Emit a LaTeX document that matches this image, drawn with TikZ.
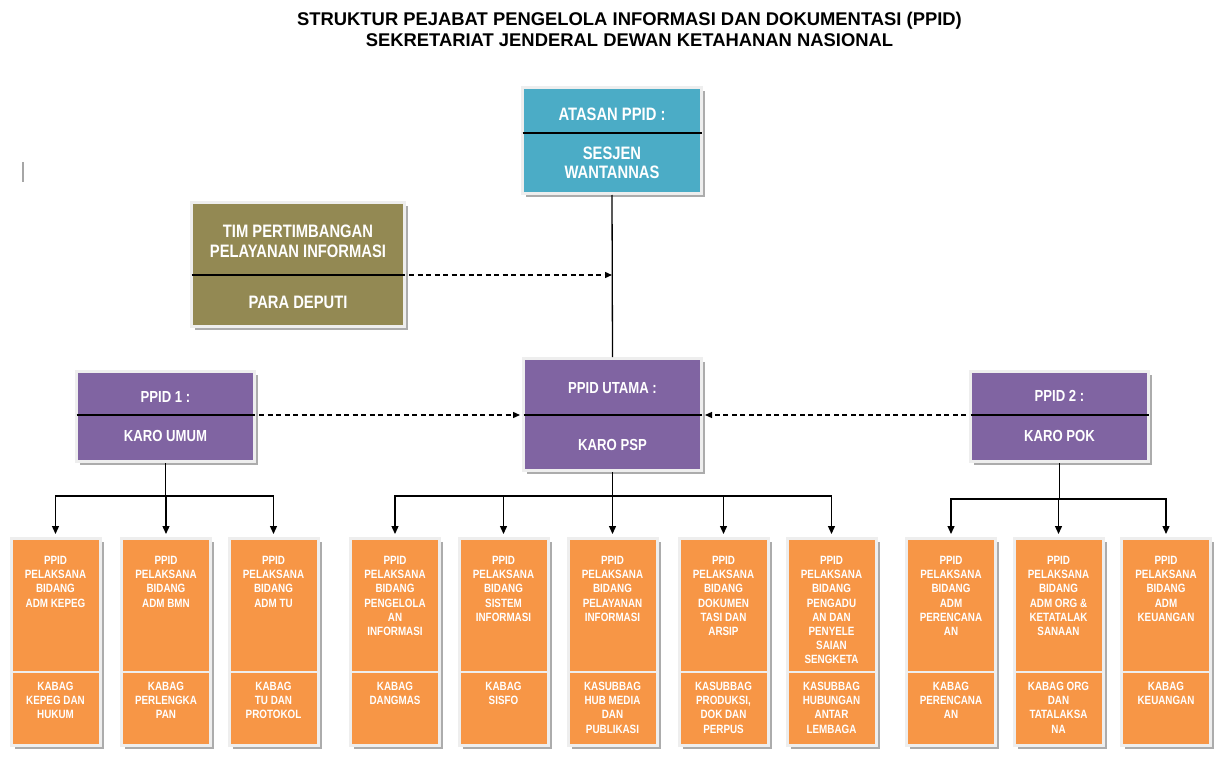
\documentclass[tikz,border=0pt]{standalone}
\usepackage{fontspec}
\setmainfont{Liberation Sans}
\newfontfamily\narrowsf{Liberation Sans}[FakeStretch=0.82]
\usepackage{xcolor}
\usepackage{tikz}
\usetikzlibrary{calc,shadows,arrows.meta}
\definecolor{rim}{HTML}{EEEEEE}
\definecolor{sky}{HTML}{4BACC6}
\definecolor{khaki}{HTML}{938953}
\definecolor{plum}{HTML}{8064A2}
\definecolor{amber}{HTML}{F79646}
\tikzset{
  box/.style={draw=rim, line width=3pt, inner sep=0pt,
    drop shadow={shadow xshift=3.5pt, shadow yshift=-3.5pt, fill=gray!65, opacity=1}},
  skybox/.style={box, fill=sky, minimum width=179pt, minimum height=106pt},
  khakibox/.style={box, fill=khaki, minimum width=213pt, minimum height=124pt},
  plumbox/.style={box, fill=plum, minimum width=178pt},
  amberbox/.style={box, fill=amber, minimum width=89pt, minimum height=207pt},
  rule/.style={draw=black, line width=1.2pt, shorten <=1.5pt, shorten >=1.5pt},
  seam/.style={draw=rim, line width=2.5pt},
  tree/.style={draw=black, line width=1.3pt, -{Triangle[length=8pt,width=7pt]}, shorten >=3pt},
  link/.style={draw=black, line width=1.3pt, dash pattern=on 5pt off 3.5pt,
    -{Triangle[length=7pt,width=6pt]}, shorten <=3pt},
  titletxt/.style={text=black, font=\bfseries\fontsize{18.4}{21.5}\selectfont, align=center, inner sep=0pt},
  bigtxt/.style={text=white, font=\narrowsf\bfseries\fontsize{18}{19.5}\selectfont, align=center, inner sep=0pt},
  midtxt/.style={text=white, font=\narrowsf\bfseries\fontsize{16}{18}\selectfont, align=center, inner sep=0pt},
  smalltxt/.style={text=white, font=\narrowsf\bfseries\fontsize{12}{14.2}\selectfont, align=center, inner sep=0pt},
}
\begin{document}
\begin{tikzpicture}[x=1pt,y=-1pt]
  \useasboundingbox (0,0) rectangle (1230,759);

  \node[titletxt] (title) at (629.5,29.5)
    {STRUKTUR PEJABAT PENGELOLA INFORMASI DAN DOKUMENTASI (PPID)\\SEKRETARIAT JENDERAL DEWAN KETAHANAN NASIONAL};
  \draw[gray!70, line width=1.2pt] (23,162) -- (23,182);

  % top of the chart
  \coordinate (atasanmid) at (612,133);
  \coordinate (timmid) at (298,275);
  \coordinate (timjoin) at (612,275);
  \coordinate (midrow) at (0,415);

  \node[skybox] (atasan) at (612,140.5) {};
  \draw[rule] (atasan.west |- atasanmid) -- (atasan.east |- atasanmid);
  \node[bigtxt] (atasan-up) at (612,114) {ATASAN PPID :};
  \node[bigtxt] (atasan-dn) at (612,163) {SESJEN\\WANTANNAS};

  \node[khakibox] (tim) at (298,264.5) {};
  \draw[rule] (tim.west |- timmid) -- (tim.east |- timmid);
  \node[bigtxt] (tim-up) at (298,241.5) {TIM PERTIMBANGAN\\PELAYANAN INFORMASI};
  \node[bigtxt] (tim-dn) at (298,302) {PARA DEPUTI};

  % PPID boxes
  \node[plumbox, minimum height=112pt] (utama) at (612.5,414.5) {};
  \draw[rule] (utama.west |- midrow) -- (utama.east |- midrow);
  \node[midtxt] (utama-up) at (612.5,388) {PPID UTAMA :};
  \node[midtxt] (utama-dn) at (612.5,445) {KARO PSP};

  \node[plumbox, minimum height=90pt] (ppid1) at (165.5,416.5) {};
  \draw[rule] (ppid1.west |- midrow) -- (ppid1.east |- midrow);
  \node[midtxt] (ppid1-up) at (165.5,397) {PPID 1 :};
  \node[midtxt] (ppid1-dn) at (165.5,436) {KARO UMUM};

  \node[plumbox, minimum height=90pt] (ppid2) at (1059.5,416.5) {};
  \draw[rule] (ppid2.west |- midrow) -- (ppid2.east |- midrow);
  \node[midtxt] (ppid2-up) at (1059.5,396) {PPID 2 :};
  \node[midtxt] (ppid2-dn) at (1059.5,436) {KARO POK};

  \draw[black, line width=1.3pt] (atasan.south) -- (utama.north);
  \draw[link] (tim.east |- timjoin) -- (timjoin);
  \draw[link, shorten >=2pt] (ppid1.east |- midrow) -- (utama.west |- midrow);
  \draw[link, shorten >=2pt] (ppid2.west |- midrow) -- (utama.east |- midrow);

  % pelaksana boxes
  \foreach \cx/\nm/\up/\dn in {
      55.5/kepeg/{PPID\\PELAKSANA\\BIDANG\\ADM KEPEG}/{KABAG\\KEPEG DAN\\HUKUM},
      166/bmn/{PPID\\PELAKSANA\\BIDANG\\ADM BMN}/{KABAG\\PERLENGKA\\PAN},
      273.5/tu/{PPID\\PELAKSANA\\BIDANG\\ADM TU}/{KABAG\\TU DAN\\PROTOKOL},
      395/kelola/{PPID\\PELAKSANA\\BIDANG\\PENGELOLA\\AN\\INFORMASI}/{KABAG\\DANGMAS},
      503.5/sisfo/{PPID\\PELAKSANA\\BIDANG\\SISTEM\\INFORMASI}/{KABAG\\SISFO},
      612.5/layanan/{PPID\\PELAKSANA\\BIDANG\\PELAYANAN\\INFORMASI}/{KASUBBAG\\HUB MEDIA\\DAN\\PUBLIKASI},
      723.5/dokumen/{PPID\\PELAKSANA\\BIDANG\\DOKUMEN\\TASI DAN\\ARSIP}/{KASUBBAG\\PRODUKSI,\\DOK DAN\\PERPUS},
      831.5/aduan/{PPID\\PELAKSANA\\BIDANG\\PENGADU\\AN DAN\\PENYELE\\SAIAN\\SENGKETA}/{KASUBBAG\\HUBUNGAN\\ANTAR\\LEMBAGA},
      951/rencana/{PPID\\PELAKSANA\\BIDANG\\ADM\\PERENCANA\\AN}/{KABAG\\PERENCANA\\AN},
      1058.5/org/{PPID\\PELAKSANA\\BIDANG\\ADM ORG \&\\KETATALAK\\SANAAN}/{KABAG ORG\\DAN\\TATALAKSA\\NA},
      1166/uang/{PPID\\PELAKSANA\\BIDANG\\ADM\\KEUANGAN}/{KABAG\\KEUANGAN}} {
    \node[amberbox] (\nm) at (\cx,642) {};
    \draw[seam] ([yshift=-30pt]\nm.west) -- ([yshift=-30pt]\nm.east);
    \node[smalltxt, anchor=north] (\nm-up) at ([yshift=-19pt]\nm.north) {\up};
    \node[smalltxt, anchor=north] (\nm-dn) at ([yshift=-145pt]\nm.north) {\dn};
  }

  % tree lines
  \coordinate (busL) at (0,496);
  \coordinate (busR) at (0,499);
  \foreach \c in {kepeg,bmn,tu}
    \draw[tree] (ppid1.south) -- (ppid1.south |- busL) -| (\c.north);
  \foreach \c in {kelola,sisfo,layanan,dokumen,aduan}
    \draw[tree] (utama.south) -- (utama.south |- busL) -| (\c.north);
  \foreach \c in {rencana,org,uang}
    \draw[tree] (ppid2.south) -- (ppid2.south |- busR) -| (\c.north);
\end{tikzpicture}
\end{document}
